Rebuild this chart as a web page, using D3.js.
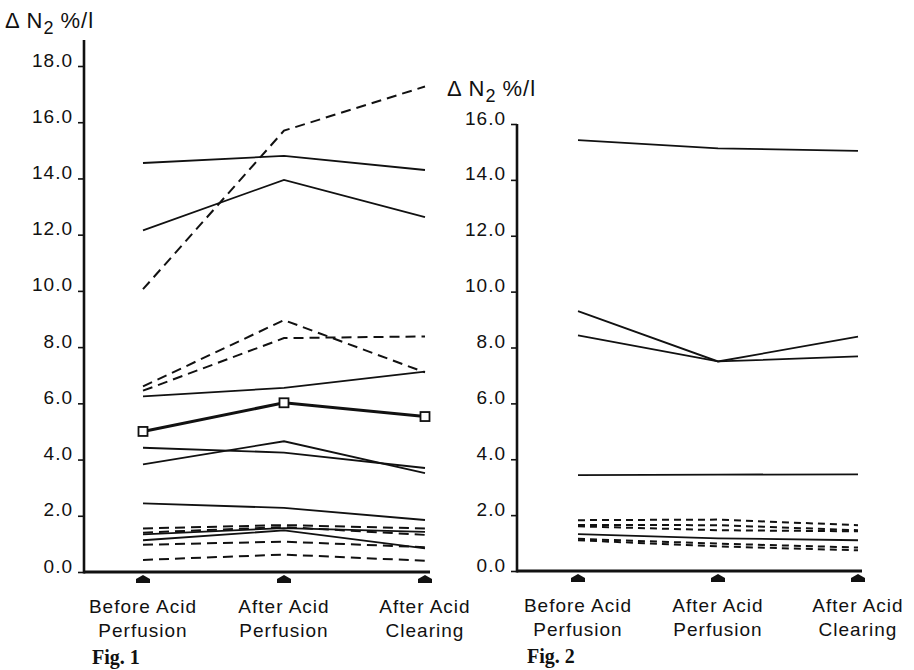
<!DOCTYPE html>
<html><head><meta charset="utf-8">
<script src="https://cdn.jsdelivr.net/npm/d3@7"></script>
<style>
body{margin:0;background:#fff}
svg text{fill:#111}
.lbl{font-family:"Liberation Sans Narrow","Liberation Sans",sans-serif;letter-spacing:1px}
.fig{font-family:"Liberation Serif",serif;font-weight:bold}
</style>
</head><body><svg id="c" width="914" height="670"></svg>
<script>
// Time points of the perfusion study
const categories = ["Before Acid Perfusion", "After Acid Perfusion", "After Acid Clearing"];
const categoryLines = [["Before Acid", "Perfusion"], ["After Acid", "Perfusion"], ["After Acid", "Clearing"]];

const fig1Ticks = [0, 2, 4, 6, 8, 10, 12, 14, 16, 18];
const fig2Ticks = [0, 2, 4, 6, 8, 10, 12, 14, 16];

// Fig. 1: ΔN2 %/l per subject
const fig1Solid = [
  [14.55, 14.80, 14.30],
  [12.15, 13.95, 12.62],
  [6.25, 6.55, 7.13],
  [4.42, 4.25, 3.70],
  [3.83, 4.65, 3.52],
  [2.44, 2.28, 1.85],
  [1.34, 1.56, 1.43],
  [1.13, 1.48, 0.84]
];
const fig1Dashed = [
  [10.06, 15.70, 17.27],
  [6.60, 8.96, 7.10],
  [6.45, 8.32, 8.38],
  [1.55, 1.67, 1.55],
  [1.40, 1.60, 1.32],
  [0.97, 1.08, 0.88],
  [0.43, 0.62, 0.40]
];
const fig1Marked = [5.00, 6.02, 5.53];

// Fig. 2: ΔN2 %/l per subject
const fig2Solid = [
  [15.42, 15.13, 15.04],
  [9.30, 7.50, 8.39],
  [8.43, 7.50, 7.68],
  [3.43, 3.45, 3.46],
  [1.32, 1.17, 1.10]
];
const fig2Dashed = [
  [1.82, 1.84, 1.64],
  [1.65, 1.64, 1.46],
  [1.60, 1.46, 1.42],
  [1.15, 0.98, 0.84],
  [1.10, 0.88, 0.74]
];

const svg = d3.select("#c");
const fmt = d3.format(".1f");

const panels = [
  { name: "Fig. 1", ticks: fig1Ticks, solid: fig1Solid, dashed: fig1Dashed, marked: fig1Marked,
    xRange: [143, 425], yRange: [572, 66], axisX: 84, axisTop: 40, axisRight: 430,
    titleX: 5, titleY: 28, figX: 92, dash: "10,6" },
  { name: "Fig. 2", ticks: fig2Ticks, solid: fig2Solid, dashed: fig2Dashed, marked: null,
    xRange: [578, 858], yRange: [571, 124], axisX: 517, axisTop: 124, axisRight: 862,
    titleX: 447, titleY: 96, figX: 527, dash: "7,5" }
];

panels.forEach(p => {
  const g = svg.append("g");
  const x = d3.scalePoint().domain(categories).range(p.xRange);
  const y = d3.scaleLinear().domain([0, d3.max(p.ticks)]).range(p.yRange);

  // y axis
  const ax = g.append("g").attr("transform", `translate(${p.axisX},0)`)
    .call(d3.axisLeft(y).tickValues(p.ticks).tickFormat(fmt).tickSize(6).tickPadding(5));
  ax.select(".domain").remove();
  ax.selectAll(".tick line").attr("stroke", "#111").attr("stroke-width", 1.6);
  ax.selectAll(".tick text").attr("dy", "0").attr("class", "lbl")
    .style("font-size", "19px").attr("fill", "#111");
  g.append("line").attr("x1", p.axisX).attr("x2", p.axisX)
    .attr("y1", p.axisTop).attr("y2", y(0) + 1.5)
    .attr("stroke", "#111").attr("stroke-width", 2.6);

  // x axis
  g.append("line").attr("x1", p.axisX).attr("x2", p.axisRight)
    .attr("y1", y(0)).attr("y2", y(0))
    .attr("stroke", "#111").attr("stroke-width", 3);

  // arrow markers under each time point
  g.selectAll(".arrow").data(categories).join("path")
    .attr("transform", d => `translate(${x(d)},${y(0)})`)
    .attr("d", "M-7,11 L-7,7 L0,3 L7,7 L7,11 Z")
    .attr("fill", "#111");

  // category labels
  categories.forEach((c, i) => {
    const t = g.append("text").attr("class", "lbl").attr("text-anchor", "middle")
      .style("font-size", "19px");
    categoryLines[i].forEach((s, j) => {
      t.append("tspan").attr("x", x(c)).attr("y", y(0) + 41 + j * 24).text(s);
    });
  });

  // figure caption
  g.append("text").attr("class", "fig").attr("x", p.figX).attr("y", y(0) + 92)
    .style("font-size", "20px").text(p.name);

  // axis title
  const tt = g.append("text").attr("class", "lbl").attr("x", p.titleX).attr("y", p.titleY)
    .style("font-size", "22px");
  tt.append("tspan").text("Δ N");
  tt.append("tspan").attr("dy", 6).style("font-size", "18px").text("2");
  tt.append("tspan").attr("dy", -6).attr("dx", 6).text("%/l");

  const line = d3.line().x((d, i) => x(categories[i])).y(d => y(d));

  g.selectAll(".solid").data(p.solid).join("path")
    .attr("d", line).attr("fill", "none").attr("stroke", "#111").attr("stroke-width", 1.8);
  g.selectAll(".dashed").data(p.dashed).join("path")
    .attr("d", line).attr("fill", "none").attr("stroke", "#111").attr("stroke-width", 2)
    .attr("stroke-dasharray", p.dash);

  if (p.marked) {
    g.append("path").attr("d", line(p.marked)).attr("fill", "none")
      .attr("stroke", "#111").attr("stroke-width", 3);
    g.selectAll(".sq").data(p.marked).join("rect")
      .attr("x", (d, i) => x(categories[i]) - 4.5).attr("y", d => y(d) - 4.5)
      .attr("width", 9).attr("height", 9)
      .attr("fill", "#fff").attr("stroke", "#111").attr("stroke-width", 1.8);
  }
});
</script>
</body></html>
